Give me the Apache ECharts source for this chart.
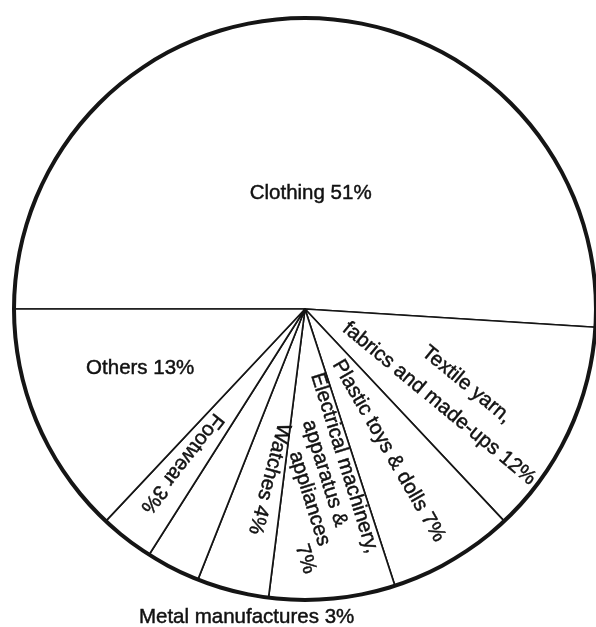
<!DOCTYPE html>
<html>
<head>
<meta charset="utf-8">
<script src="https://cdn.jsdelivr.net/npm/echarts@6/dist/echarts.min.js"></script>
<style>
html,body{margin:0;padding:0;background:#fff;}
#chart{width:596px;height:627px;}
</style>
</head>
<body>
<div id="chart"></div>
<script>
// ---- data ----
const categories = ['Clothing', 'Textile yarn, fabrics and made-ups', 'Plastic toys & dolls',
  'Electrical machinery, apparatus & appliances', 'Watches', 'Metal manufactures', 'Footwear', 'Others'];
const shares = [51, 12, 7, 7, 4, 3, 3, 13];
const labelTexts = [
  'Clothing 51%',
  '{l1|Textile yarn,}\n{l2|fabrics and made-ups 12%}',
  'Plastic toys & dolls 7%',
  '{e1|Electrical machinery,}\n{e2|apparatus &}\n{e3|appliances}\n{e4|7%}',
  'Watches 4%',
  'Metal manufactures 3%',
  'Footwear 3%',
  'Others 13%'
];

// ---- label styling (rotation in degrees, screen shift from the default inside spot) ----
const labelRotate = [0, -39.5, -60, -72.6, -105, 0, -128, 0];
const labelShift = [[1, 33], [10, 19], [8, 14], [-6, 16], [1, 26], [9, 176], [-32, 37], [-28.5, 0]];

const FONT = 'Liberation Sans, Arial, Helvetica, sans-serif';
const FS = 20.5;
const baseText = { fontFamily: FONT, fontSize: FS, color: '#111', textBorderColor: '#111', textBorderWidth: 0.45 };

const chart = echarts.init(document.getElementById('chart'), null, { renderer: 'canvas' });

const pieData = categories.map((name, i) => ({
  name: name,
  value: shares[i],
  label: {
    formatter: labelTexts[i],
    rotate: labelRotate[i]
  }
}));

// convert a screen-space shift into the label's rotated frame
function localShift(i) {
  const s = labelShift[i];
  const t = -labelRotate[i] * Math.PI / 180;
  return {
    dx: s[0] * Math.cos(t) + s[1] * Math.sin(t),
    dy: -s[0] * Math.sin(t) + s[1] * Math.cos(t)
  };
}

const option = {
  backgroundColor: '#ffffff',
  animation: false,
  series: [
    {
      type: 'pie',
      center: [305, 309],
      radius: [0, 291],
      startAngle: 180,
      clockwise: true,
      avoidLabelOverlap: false,
      silent: true,
      itemStyle: { color: '#ffffff', borderColor: '#151515', borderWidth: 1.7 },
      label: Object.assign({
        show: true,
        position: 'inside',
        align: 'center',
        verticalAlign: 'middle',
        rich: {
          l1: Object.assign({ lineHeight: 32, padding: [0, 0, 0, 18] }, baseText),
          l2: Object.assign({ lineHeight: 32 }, baseText),
          e1: Object.assign({ lineHeight: 22 }, baseText),
          e2: Object.assign({ lineHeight: 22, padding: [0, 0, 0, 8] }, baseText),
          e3: Object.assign({ lineHeight: 22, padding: [0, 0, 0, 47] }, baseText),
          e4: Object.assign({ lineHeight: 22, padding: [0, 0, 0, 160] }, baseText)
        }
      }, baseText),
      labelLine: { show: false },
      labelLayout: function (params) {
        return localShift(params.dataIndex);
      },
      emphasis: { disabled: true },
      data: pieData
    },
    {
      type: 'pie',
      center: [305, 309],
      radius: [289, 293],
      silent: true,
      label: { show: false },
      labelLine: { show: false },
      itemStyle: { color: '#151515', borderWidth: 0 },
      emphasis: { disabled: true },
      data: [{ value: 1, name: 'rim' }]
    }
  ]
};
chart.setOption(option);
</script>
</body>
</html>
